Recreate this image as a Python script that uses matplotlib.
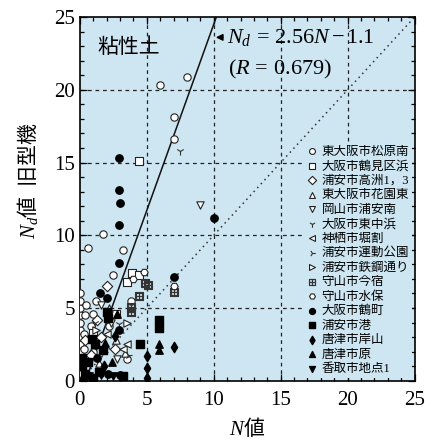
import numpy as np
import matplotlib
matplotlib.use("Agg")
from matplotlib import pyplot as plt
from matplotlib.ticker import MultipleLocator

plt.rcParams['font.family'] = ['Liberation Serif', 'Noto Sans CJK JP']
# mathtext: italic letters in serif, CJK via \mathrm (Noto), digits via \mathsf (serif)
plt.rcParams['mathtext.fontset'] = 'custom'
plt.rcParams['mathtext.rm'] = 'Noto Sans CJK JP'
plt.rcParams['mathtext.it'] = 'Liberation Serif:italic'
plt.rcParams['mathtext.sf'] = 'Liberation Serif'
plt.rcParams['mathtext.fallback'] = 'stix'

######### data #########
labels = ["東大阪市松原南", "大阪市鶴見区浜", "浦安市高洲1，3", "東大阪市花園東",
          "岡山市浦安南", "大阪市東中浜", "神栖市堀割", "浦安市運動公園",
          "浦安市鉄鋼通り", "守山市今宿", "守山市水保", "大阪市鶴町",
          "浦安市港", "唐津市岸山", "唐津市原", "香取市地点1"]

s1_n = [0, 0, 0, 0, 0, 0, 0, 0, 0, 0, 0, 0, 0.3, 0.3, 0.3, 0.4, 0.5, 0.8, 1.0, 1.0, 1.2,
        0.6, 1.7, 2.5, 3.2, 6.0, 8.0, 7.0, 7.0, 3.8, 1.5, 2.2, 3.5]
s1_nd = [0.5, 1, 1.5, 2, 2.5, 3, 3.5, 4, 4.5, 5, 5.5, 6, 1.2, 2.2, 3.2, 4.5, 5.2, 3.8, 2.0, 4.6, 5.5,
         9.1, 10.1, 7.3, 9.0, 20.3, 20.9, 18.1, 16.6, 5.5, 0.8, 3.8, 1.5]
s2_n = [4.4, 3.9, 4.4, 3.5, 0.5, 1.0, 2.7]
s2_nd = [15.1, 7.4, 7.3, 6.8, 0.3, 3.3, 4.6]
s3_n = [0.4, 0.8, 1.3, 2.0, 2.6, 1.6]
s3_nd = [2.8, 1.8, 4.2, 6.5, 2.2, 3.0]
s4_n = [1.4, 2.2, 2.7, 3.4]
s4_nd = [1.2, 5.0, 2.8, 1.9]
s5_n = [9.0, 2.3, 1.6, 2.8]
s5_nd = [12.1, 4.0, 5.2, 1.5]
s6_n = [7.5, 2.9, 1.1]
s6_nd = [15.8, 3.9, 4.0]
s7_n = [3.2, 2.0, 3.5]
s7_nd = [2.2, 3.2, 2.5]
s8_n = [3.6, 1.8]
s8_nd = [1.8, 2.0]
s9_n = [3.5, 1.2]
s9_nd = [4.0, 3.5]
s10_n = [4.9, 5.1, 7.0, 3.8, 3.8, 4.4]
s10_nd = [6.7, 6.6, 6.1, 4.7, 5.1, 5.8]
s11_n = [4.0, 4.8, 7.0]
s11_nd = [7.0, 7.5, 6.5]
s12_n = [2.9, 2.9, 3.0, 2.9, 2.9, 10.0, 7.0, 1.5, 2.0, 2.9, 1.3, 2.1, 3.0, 0.3]
s12_nd = [15.3, 13.1, 12.2, 10.7, 8.1, 11.2, 7.1, 6.0, 5.7, 3.5, 1.6, 0.5, 0.4, 0.2]
s13_n = [5.9, 5.9, 4.5, 2.0, 2.1, 0.9, 1.1, 1.7, 0.15, 0.4, 3.2, 1.0, 0.2, 0.6, 1.4]
s13_nd = [4.2, 3.6, 2.5, 4.7, 4.3, 2.9, 2.5, 2.1, 1.0, 0.5, 0.3, 0.2, 1.6, 1.3, 0.6]
s14_n = [5.0, 5.0, 7.0, 2.6, 1.8, 5.0]
s14_nd = [1.7, 0.9, 2.3, 3.1, 1.0, 0.2]
s15_n = [5.9, 5.9, 2.4, 1.9, 2.8]
s15_nd = [2.1, 2.5, 1.3, 2.6, 4.6]
s16_n = [0.7, 1.6, 2.5]
s16_nd = [0.3, 0.4, 0.3]

slope, intercept = 2.56, -1.1

series = [(s1_n, s1_nd, 'o', False), (s2_n, s2_nd, 's', False), (s3_n, s3_nd, 'D', False),
          (s4_n, s4_nd, '^', False), (s5_n, s5_nd, 'v', False), (s6_n, s6_nd, '1', False),
          (s7_n, s7_nd, '<', False), (s8_n, s8_nd, '4', False), (s9_n, s9_nd, '>', False),
          (s10_n, s10_nd, '$\\boxplus$', False), (s11_n, s11_nd, 'H', False),
          (s12_n, s12_nd, 'o', True), (s13_n, s13_nd, 's', True), (s14_n, s14_nd, 'd', True),
          (s15_n, s15_nd, '^', True), (s16_n, s16_nd, 'v', True)]

bg = '#cde6f2'

fig = plt.figure(figsize=(4.36, 4.48), dpi=100)
ax = fig.add_axes([0.183, 0.150, 0.768, 0.812])
ax.set_facecolor(bg)

# grid + reference lines
for v in [5, 10, 15, 20]:
    ax.axvline(v, color='#222222', lw=0.9, ls=(0, (3, 3)), zorder=1)
    ax.axhline(v, color='#222222', lw=0.9, ls=(0, (3, 3)), zorder=1)
ax.plot([0, 25], [0, 25], color='#333333', lw=1.1, ls=(0, (1, 2.5)), zorder=1)
xr = np.array([-intercept / slope, (25 - intercept) / slope])
ax.plot(xr, slope * xr + intercept, color='#111111', lw=1.1, zorder=2)

for (xs, ys, m, filled), lab in zip(series, labels):
    if filled:
        ax.scatter(xs, ys, marker=m, s=28, c='black', edgecolors='black', zorder=4, label=lab)
    elif m in ('1', '4', '$\\boxplus$'):
        ax.scatter(xs, ys, marker=m, s=34, c='#333333', linewidths=0.8, zorder=3, label=lab)
    else:
        ax.scatter(xs, ys, marker=m, s=28, facecolors='white', edgecolors='#222222',
                   linewidths=0.8, zorder=3, label=lab)

ax.set_xlim(0, 25)
ax.set_ylim(0, 25)
ax.xaxis.set_major_locator(MultipleLocator(5))
ax.yaxis.set_major_locator(MultipleLocator(5))
ax.xaxis.set_minor_locator(MultipleLocator(1))
ax.yaxis.set_minor_locator(MultipleLocator(1))
ax.tick_params(which='both', direction='in', top=True, right=True, labelsize=15, width=0.9)
ax.tick_params(which='major', length=5)
ax.tick_params(which='minor', length=3)
ax.tick_params(axis='x', pad=7)
for sp in ax.spines.values():
    sp.set_linewidth(1.2)

ax.set_xlabel('$N\\mathrm{値}$', fontsize=15, labelpad=5)
ax.set_ylabel('$N_d\\mathrm{値\\ \\ 旧型機}$', fontsize=15)
ax.yaxis.set_label_coords(-0.12, 0.55)

ax.text(1.3, 22.5, '粘性土', fontsize=15, zorder=5)
ax.annotate('', xy=(9.95, 23.6), xytext=(10.9, 23.6),
            arrowprops=dict(arrowstyle='-|>', color='black', lw=1.0, mutation_scale=10))
ax.text(11.0, 23.6, '$N_d\\,\\mathsf{=}\\,\\mathsf{2.56}N\\,\\mathsf{\u2212}\\,\\mathsf{1.1}$',
        fontsize=16, va='center', zorder=5)
ax.text(11.1, 21.4, '$\\mathsf{(}R\\,\\mathsf{=}\\,\\mathsf{0.679)}$', fontsize=16, va='center', zorder=5)

leg = ax.legend(loc='lower right', bbox_to_anchor=(1.0, 0.0), fontsize=9.0, frameon=True,
                handletextpad=0.3, labelspacing=0.2, borderpad=0.25, handlelength=0.9,
                markerscale=0.8, borderaxespad=0.2)
leg.get_frame().set_facecolor(bg)
leg.get_frame().set_edgecolor('none')
leg.get_frame().set_alpha(1.0)

fig.savefig('out.png', dpi=100)
